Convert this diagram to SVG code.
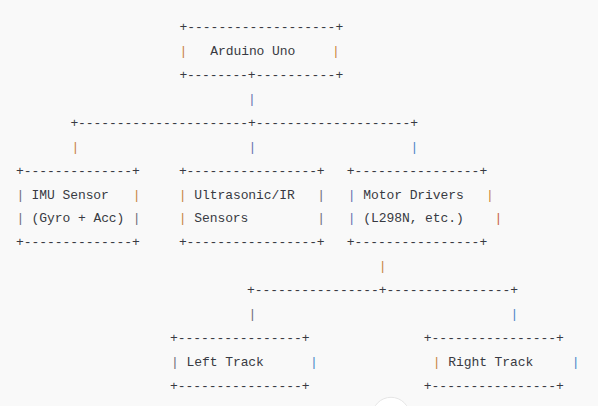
<svg xmlns="http://www.w3.org/2000/svg" width="598" height="406" viewBox="0 0 598 406">
<style>
text { font-family: "Liberation Mono", "DejaVu Sans Mono", monospace; font-size: 13px; fill: #383a42; white-space: pre; }
.p { text-anchor: middle; }
.o { fill: #c8823c; }
.b { fill: #4a86c8; }
.v { fill: #6670b0; }
.g { fill: #6e6a78; }
.r { fill: #c8603c; }
</style>
<rect width="598" height="406" fill="#f9f9f9"/>
<g id="arduino">
  <text x="179.4" y="31" textLength="163.8" lengthAdjust="spacing">+-------------------+</text>
  <text class="p o" x="183.3" y="55">|</text>
  <text x="210.3" y="55" textLength="85" lengthAdjust="spacing">Arduino Uno</text>
  <text class="p o" x="336" y="55">|</text>
  <text x="179.4" y="79" textLength="68.4" lengthAdjust="spacing">+--------</text>
  <text x="247.7" y="79" textLength="95.5" lengthAdjust="spacing">+----------+</text>
</g>
<g id="imu">
  <text x="16.1" y="174.6" textLength="123.7" lengthAdjust="spacing">+--------------+</text>
  <text class="p g" x="20.5" y="198.5">|</text>
  <text x="31.6" y="198.5" textLength="77.3" lengthAdjust="spacing">IMU Sensor</text>
  <text class="p o" x="136.7" y="198.5">|</text>
  <text class="p g" x="20.5" y="222.4">|</text>
  <text x="31.6" y="222.4" textLength="92.8" lengthAdjust="spacing">(Gyro + Acc)</text>
  <text class="p g" x="136.7" y="222.4">|</text>
  <text x="16.1" y="246.4" textLength="123.7" lengthAdjust="spacing">+--------------+</text>
</g>
<g id="ultrasonic">
  <text x="178.9" y="174.6" textLength="145.7" lengthAdjust="spacing">+-----------------+</text>
  <text class="p o" x="182.7" y="198.5">|</text>
  <text x="194.3" y="198.5" textLength="100.5" lengthAdjust="spacing">Ultrasonic/IR</text>
  <text class="p g" x="321.2" y="198.5">|</text>
  <text class="p o" x="182.7" y="222.4">|</text>
  <text x="194.3" y="222.4" textLength="54.1" lengthAdjust="spacing">Sensors</text>
  <text class="p g" x="321.2" y="222.4">|</text>
  <text x="178.9" y="246.4" textLength="145.7" lengthAdjust="spacing">+-----------------+</text>
</g>
<g id="motor">
  <text x="346.8" y="174.6" textLength="140.4" lengthAdjust="spacing">+----------------+</text>
  <text class="p v" x="351.7" y="198.5">|</text>
  <text x="363.3" y="198.5" textLength="100.5" lengthAdjust="spacing">Motor Drivers</text>
  <text class="p o" x="490" y="198.5">|</text>
  <text class="p v" x="351.7" y="222.4">|</text>
  <text x="363.3" y="222.4" textLength="100.5" lengthAdjust="spacing">(L298N, etc.)</text>
  <text class="p r" x="498.3" y="222.4">|</text>
  <text x="346.8" y="246.4" textLength="140.4" lengthAdjust="spacing">+----------------+</text>
</g>
<g id="left-track">
  <text x="170.1" y="342.1" textLength="139.5" lengthAdjust="spacing">+----------------+</text>
  <text class="p g" x="175" y="366">|</text>
  <text x="186.6" y="366" textLength="77.3" lengthAdjust="spacing">Left Track</text>
  <text class="p b" x="314" y="366">|</text>
  <text x="170.1" y="390" textLength="139.5" lengthAdjust="spacing">+----------------+</text>
</g>
<g id="right-track">
  <text x="423.8" y="342.1" textLength="140" lengthAdjust="spacing">+----------------+</text>
  <text class="p o" x="436.7" y="366">|</text>
  <text x="448.3" y="366" textLength="85" lengthAdjust="spacing">Right Track</text>
  <text class="p b" x="575.7" y="366">|</text>
  <text x="423.8" y="390" textLength="140" lengthAdjust="spacing">+----------------+</text>
</g>
<g id="connectors">
  <text class="p v" x="252" y="102.8">|</text>
  <text x="70.4" y="126.7" textLength="347.7" lengthAdjust="spacing">+----------------------+--------------------+</text>
  <text class="p o" x="75.5" y="150.7">|</text>
  <text class="p v" x="252.3" y="150.7">|</text>
  <text class="p b" x="414.3" y="150.7">|</text>
  <text class="p o" x="382.7" y="270.3">|</text>
  <text x="247.1" y="294.2" textLength="271" lengthAdjust="spacing">+----------------+----------------+</text>
  <text class="p g" x="252.3" y="318.2">|</text>
  <text class="p b" x="514.3" y="318.2">|</text>
</g>
<circle cx="391" cy="416" r="18.7" fill="#ffffff" stroke="#e6e6e6"/>
</svg>
